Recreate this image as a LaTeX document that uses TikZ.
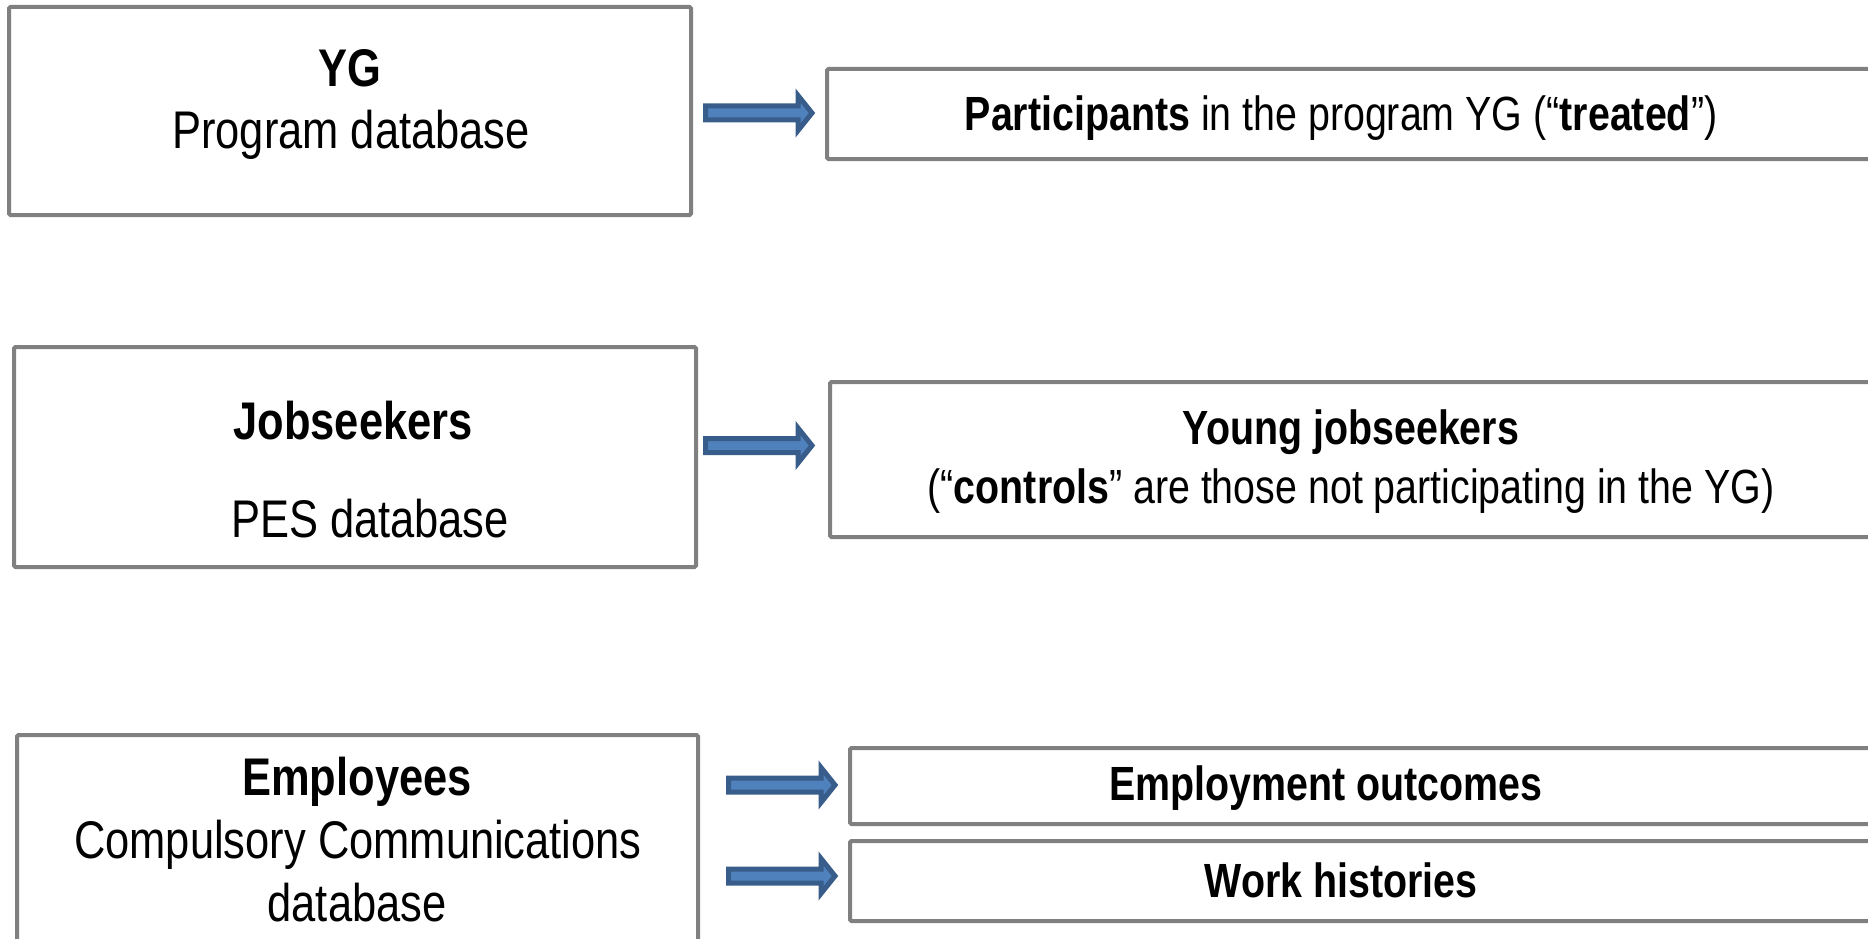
\documentclass[tikz,border=0pt]{standalone}
\usepackage{fontspec}
\setmainfont{Liberation Sans}[FakeStretch=0.82]
\usetikzlibrary{calc}
\definecolor{boxgray}{HTML}{808080}
\definecolor{arrowfill}{HTML}{4F81BD}
\definecolor{arrowline}{HTML}{385D8A}

% block arrow from a start coordinate to a tip coordinate (horizontal)
\newcommand{\blockarrow}[2]{%
  \draw[blockarrow] ($(#1)+(2.5,-7)$) -- ($(#2)+(-17,-7)$) -- ($(#2)+(-17,-17.5)$)
    -- ($(#2)+(-3,0)$) -- ($(#2)+(-17,17.5)$) -- ($(#2)+(-17,7)$)
    -- ($(#1)+(2.5,7)$) -- cycle;}

\begin{document}
\begin{tikzpicture}[x=1pt,y=-1pt,
  box/.style={draw=boxgray, line width=4pt, fill=white, rounded corners=1.5pt,
              inner sep=0pt, outer sep=0pt},
  bigtext/.style={font=\fontsize{53}{62}\selectfont, anchor=base, inner sep=0pt},
  smalltext/.style={font=\fontsize{48}{58}\selectfont, anchor=base, inner sep=0pt},
  blockarrow/.style={draw=arrowline, fill=arrowfill, line width=5pt, line join=miter}]

\useasboundingbox (0,0) rectangle (1868,939);
\clip (0,0) rectangle (1868,939);

% source databases (left column)
\node[box, minimum width=682pt, minimum height=208pt] (yg)  at (350,111) {};
\node[box, minimum width=682pt, minimum height=220pt] (job) at (355,457) {};
\node[box, minimum width=681pt, minimum height=265pt] (emp) at (357.5,867.5) {};

% derived samples (right column, running off the page)
\node[box, minimum width=1073pt, minimum height=90pt]  (part)  at (1363.5,114) {};
\node[box, minimum width=1070pt, minimum height=155pt] (young) at (1365,459.5) {};
\node[box, minimum width=1050pt, minimum height=76pt]  (out)   at (1375,786) {};
\node[box, minimum width=1050pt, minimum height=80pt]  (work)  at (1375,881) {};

% texts of the left column
\node[bigtext] (ygA) at (350,87)  {\textbf{YG}};
\node[bigtext] (ygB) at (351,148) {Program database};
\node[bigtext] (jobA) at (353,439) {\textbf{Jobseekers}};
\node[bigtext] (jobB) at (370,537) {PES database};
\node[bigtext] (empA) at (357,795) {\textbf{Employees}};
\node[bigtext] (empB) at (358,858) {Compulsory Communications};
\node[bigtext] (empC) at (357,921) {database};

% texts of the right column
\node[smalltext] (partA) at (1341,131) {\textbf{Participants} in the program YG (“\textbf{treated}”)};
\node[smalltext] (youngA) at (1351,444) {\textbf{Young jobseekers}};
\node[smalltext] (youngB) at (1351,503) {(“\textbf{controls}” are those not participating in the YG)};
\node[smalltext] (outA) at (1326,800) {\textbf{Employment outcomes}};
\node[smalltext] (workA) at (1341,897) {\textbf{Work histories}};

% arrow ends
\coordinate (a1s) at (703,113);   \coordinate (a1t) at (815,113);
\coordinate (a2s) at (703,445.5); \coordinate (a2t) at (815,445.5);
\coordinate (a3s) at (726,785);   \coordinate (a3t) at (838,785);
\coordinate (a4s) at (726,876);   \coordinate (a4t) at (838,876);

\blockarrow{a1s}{a1t}
\blockarrow{a2s}{a2t}
\blockarrow{a3s}{a3t}
\blockarrow{a4s}{a4t}
\end{tikzpicture}
\end{document}
